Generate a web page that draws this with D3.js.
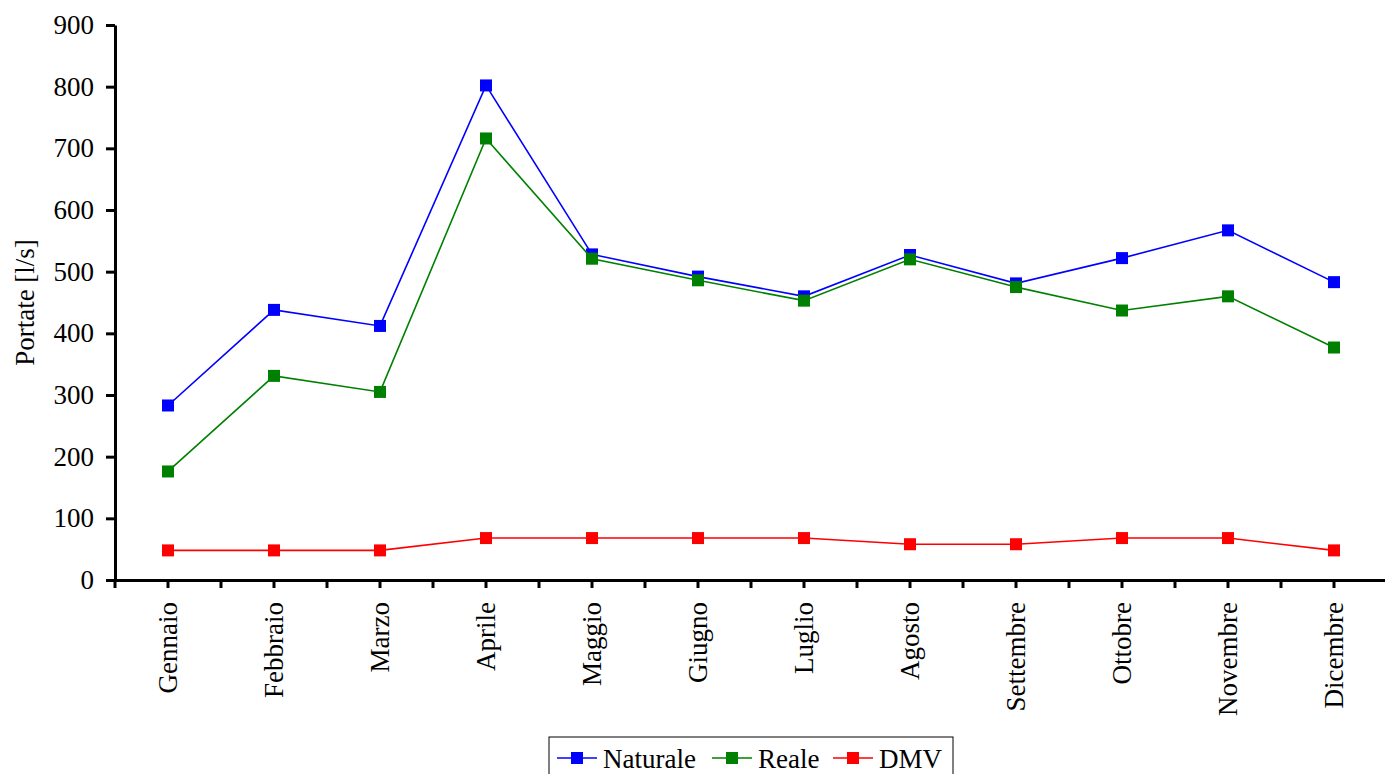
<!DOCTYPE html>
<html>
<head>
<meta charset="utf-8">
<script src="https://cdn.jsdelivr.net/npm/d3@7"></script>
<style>
  body { margin: 0; background: #fff; }
  svg { display: block; font-family: "Liberation Serif", "Times New Roman", serif; }
</style>
</head>
<body>
<svg id="chart" width="1385" height="774"></svg>
<script>
var months = ["Gennaio","Febbraio","Marzo","Aprile","Maggio","Giugno","Luglio","Agosto","Settembre","Ottobre","Novembre","Dicembre"]
var naturale = [283, 438, 412, 802, 528, 492, 460, 527, 481, 522, 567, 483]
var reale = [176, 331, 305, 716, 521, 486, 453, 520, 475, 437, 460, 377]
var dmv = [48, 48, 48, 68, 68, 68, 68, 58, 58, 68, 68, 48]
var yTicks = [0, 100, 200, 300, 400, 500, 600, 700, 800, 900]

var series = [
  {name: "Naturale", values: naturale, color: "#0000ff"},
  {name: "Reale", values: reale, color: "#008000"},
  {name: "DMV", values: dmv, color: "#ff0000"}
]

var mLeft = 115, mRight = 1387, mTop = 25, mBottom = 580

var svg = d3.select("#chart")

var x = d3.scaleBand().domain(months).range([mLeft, mRight])
var y = d3.scaleLinear().domain([0, 900]).range([mBottom, mTop])

// y axis
var yAxis = svg.append("g")
  .attr("transform", `translate(${mLeft},0)`)
  .call(d3.axisLeft(y).tickValues(yTicks).tickSize(9).tickPadding(12).tickSizeOuter(0))
yAxis.select(".domain").attr("stroke", "#000").attr("stroke-width", 3)
yAxis.selectAll(".tick line").attr("stroke", "#000").attr("stroke-width", 3)
yAxis.selectAll(".tick text").attr("font-size", "27px").attr("fill", "#000")
  .attr("font-family", "Liberation Serif, serif")

// x axis: ticks at centers plus band boundaries
var xAxis = svg.append("g")
  .attr("transform", `translate(0,${mBottom})`)
  .call(d3.axisBottom(x).tickSize(8).tickSizeOuter(0))
xAxis.select(".domain").attr("stroke", "#000").attr("stroke-width", 3)
xAxis.selectAll(".tick line").attr("stroke", "#000").attr("stroke-width", 3)
xAxis.selectAll(".tick text")
  .attr("font-size", "27px").attr("fill", "#000")
  .attr("font-family", "Liberation Serif, serif")
  .attr("transform", "rotate(-90)")
  .attr("text-anchor", "end")
  .attr("dy", "0.35em")
  .attr("x", -22)
  .attr("y", 0)

var bounds = months.map(function(m) { return x(m) }).concat([x.range()[1]])
xAxis.selectAll(".bound").data(bounds).enter().append("line")
  .attr("class", "bound")
  .attr("x1", d => d).attr("x2", d => d)
  .attr("y1", 0).attr("y2", 8)
  .attr("stroke", "#000").attr("stroke-width", 3)

// y title
svg.append("text")
  .attr("transform", `translate(34,${(mTop + mBottom) / 2}) rotate(-90)`)
  .attr("text-anchor", "middle")
  .attr("font-size", "27px")
  .text("Portate [l/s]")

var cx = function(i) { return x(months[i]) + x.bandwidth() / 2 }
var line = d3.line().x((d, i) => cx(i)).y(d => y(d))

series.forEach(function(s) {
  svg.append("path")
    .attr("d", line(s.values))
    .attr("fill", "none")
    .attr("stroke", s.color)
    .attr("stroke-width", 1.6)
  svg.selectAll(null).data(s.values).enter().append("rect")
    .attr("x", (d, i) => cx(i) - 6)
    .attr("y", d => y(d) - 6)
    .attr("width", 12).attr("height", 12)
    .attr("fill", s.color)
})

// legend
var lg = svg.append("g")
lg.append("rect")
  .attr("x", 549).attr("y", 737).attr("width", 404).attr("height", 45)
  .attr("fill", "#fff").attr("stroke", "#000").attr("stroke-width", 1)
var lx = [557, 712, 833]
series.forEach(function(s, i) {
  var g = lg.append("g").attr("transform", `translate(${lx[i]},758)`)
  g.append("line").attr("x1", 0).attr("x2", 40).attr("y1", 0).attr("y2", 0)
    .attr("stroke", s.color).attr("stroke-width", 1.6)
  g.append("rect").attr("x", 14).attr("y", -6).attr("width", 12).attr("height", 12)
    .attr("fill", s.color)
  g.append("text").attr("x", 46).attr("y", 10).attr("font-size", "27px").text(s.name)
})
</script>
</body>
</html>
